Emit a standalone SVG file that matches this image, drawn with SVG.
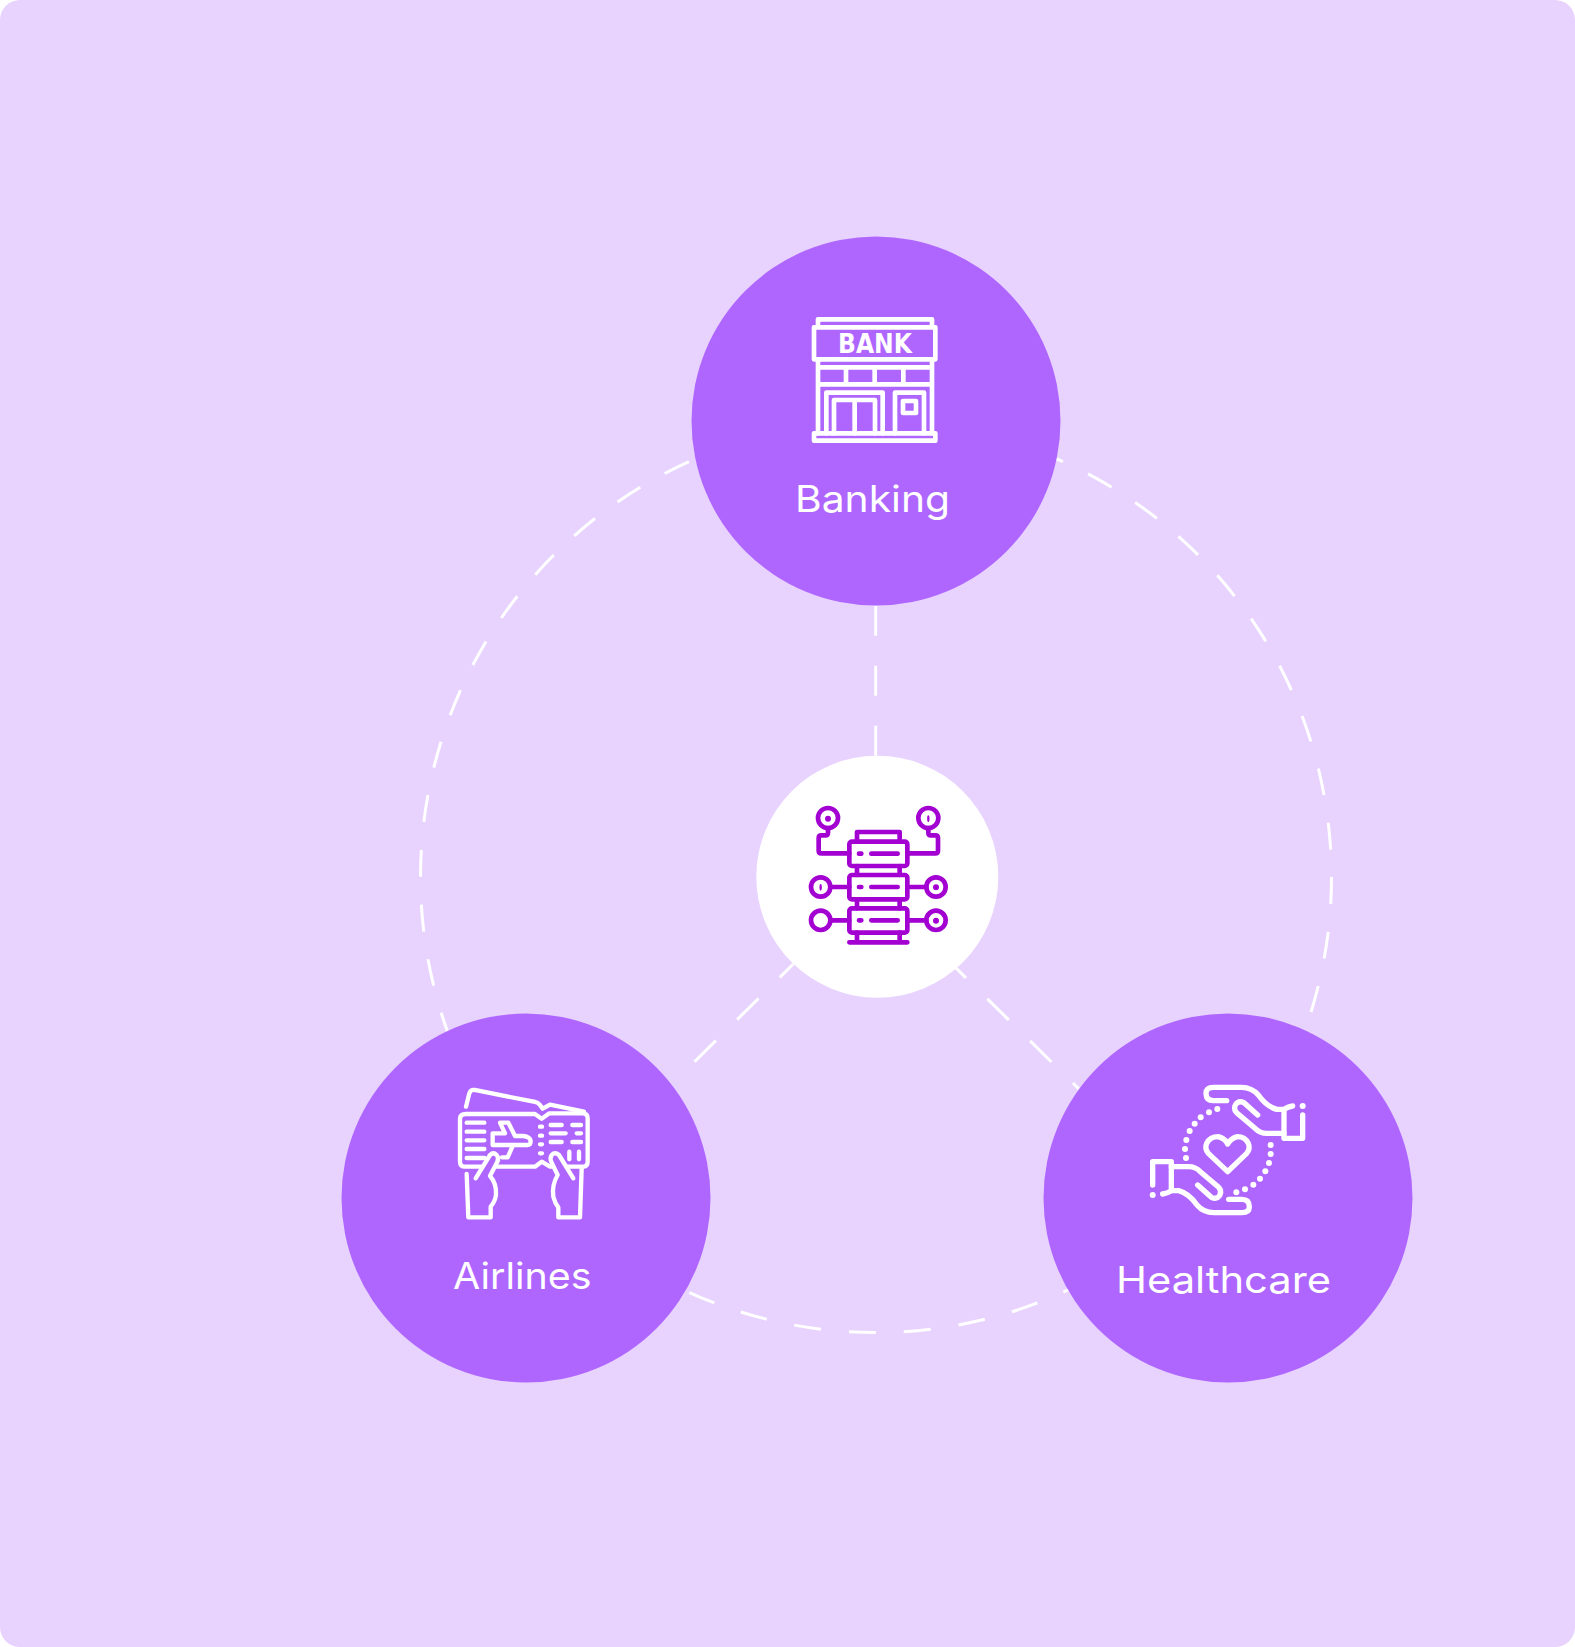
<svg xmlns="http://www.w3.org/2000/svg" width="1575" height="1647" viewBox="0 0 1575 1647">
<style>
.bg{fill:#E8D3FF}
.hub{fill:#AF66FF}
.dash{fill:none;stroke:#fff;stroke-width:3}
.ic{fill:none;stroke:#fff;stroke-linecap:round;stroke-linejoin:round}
.sv{fill:none;stroke:#A300D2;stroke-width:14;stroke-linecap:round;stroke-linejoin:round}
.d{fill:#A300D2}
.lbl{font-family:"Inter","Open Sans","Liberation Sans",sans-serif;font-size:37px;fill:#fff;font-weight:400}
</style>
<rect width="1575" height="1647" fill="#fff"/>
<rect class="bg" width="1575" height="1647" rx="20"/>
<g id="connectors">
<circle class="dash" cx="876" cy="877" r="455.5" stroke-dasharray="27 28.04"/>
<path class="dash" d="M875.7 605.7V755.7" stroke-dasharray="30 30"/>
<path class="dash" d="M793.3 964L694.3 1062" stroke-dasharray="19 30 30 30 30"/>
<path class="dash" d="M956 968L1079 1089" stroke-dasharray="14 30 30 30 30 30 9"/>
</g>
<g id="banking">
<circle class="hub" cx="876" cy="421" r="184.5"/>
<g transform="translate(780 290) scale(.33333)">
<g class="ic" stroke-width="14">
<path d="M114 110V88H456V110"/>
<rect x="102" y="112" width="364" height="96"/>
<path d="M114 208V430M456 208V430M114 232H456M114 283H456M198 232V283M284 232V283M370 232V283"/>
<path d="M139 430V308H308V430M162 430V330H285V430M224 330V430M345 430V308H432V430"/>
<rect x="369" y="333" width="39" height="36"/>
<rect x="102" y="430" width="364" height="22"/>
</g>
<text x="285" y="190" text-anchor="middle" font-family="'DejaVu Sans','Liberation Sans',sans-serif" font-weight="700" font-size="78" fill="#fff" textLength="222" lengthAdjust="spacingAndGlyphs">BANK</text>
</g>
<text class="lbl" x="795" y="512" textLength="155" lengthAdjust="spacingAndGlyphs">Banking</text>
</g>
<g id="core">
<circle cx="877.3" cy="876.7" r="121" fill="#fff"/>
<g transform="translate(790 790) scale(.33333)">
<g class="sv">
<circle cx="114" cy="84" r="30"/><circle cx="415" cy="84" r="30"/>
<circle cx="92" cy="291" r="29"/><circle cx="92" cy="391" r="29"/>
<circle cx="438" cy="291" r="29"/><circle cx="438" cy="391" r="29"/>
<path d="M114 114V128Q114 136 106 136H94Q86 136 86 144V182Q86 190 94 190H178M415 114V128Q415 136 423 136H436Q444 136 444 144V182Q444 190 436 190H352"/>
<path d="M121 291H178M121 391H178M352 291H409M352 391H409"/>
<rect x="178" y="155" width="174" height="73" rx="8"/>
<rect x="178" y="255" width="174" height="73" rx="8"/>
<rect x="178" y="355" width="174" height="73" rx="8"/>
<path d="M201 155V126H329V155M201 228V255M329 228V255M201 328V355M329 328V355M201 428V456M329 428V456M178 457H352"/>
<path d="M207 191H214M244 191H323M207 291H214M244 291H323M207 391H214M244 391H323"/>
</g>
<circle class="d" cx="114" cy="86" r="9"/><ellipse class="d" cx="415" cy="86" rx="3.5" ry="10"/>
<ellipse class="d" cx="92" cy="292" rx="3.5" ry="10"/>
<circle class="d" cx="438" cy="292" r="9"/><circle class="d" cx="438" cy="392" r="9"/>
</g>
</g>
<g id="airlines">
<circle class="hub" cx="526" cy="1198" r="184.5"/>
<g transform="translate(440 1070) scale(.33333)">
<g class="ic" stroke-width="13">
<path d="M78 110L88 70Q92 58 104 60L285 96Q295 98 300 105L308 116L330 104L432 125"/>
<path d="M78 132H285L305 146L328 130H428Q443 130 443 145V275Q443 290 428 290H330L305 275L285 290H75Q60 290 60 275V147Q60 132 78 132Z"/>
<path d="M158 190V225H262Q272 225 272 213Q270 200 250 198H225L205 158H180L195 190ZM218 228L203 262H186"/>
<path d="M80 158H133M80 185H133M80 211H133M80 237H133M80 264H133"/>
<path d="M300 170H306M300 197H306M300 223H306M300 250H306"/>
<path d="M332 165H365M397 165H423M332 190H377M410 190H423M332 216H365M397 216H423M388 245V268M417 245V268"/>
<path fill="#AF66FF" d="M107 325L150 255Q160 245 170 255Q178 265 172 275L150 318Q170 340 168 375Q165 395 152 410V442H85L80 312"/>
<path fill="#AF66FF" d="M400 325L357 255Q345 245 335 255Q328 265 335 278L353 315Q335 345 340 380Q345 400 355 412V442H420L425 295"/>
</g>
</g>
<text class="lbl" x="453" y="1289" textLength="138.5" lengthAdjust="spacingAndGlyphs">Airlines</text>
</g>
<g id="healthcare">
<circle class="hub" cx="1228" cy="1198" r="184.5"/>
<g transform="translate(1110 1070) scale(.33333)">
<g class="ic" stroke-width="16">
<path d="M350 92H310Q288 92 288 70Q288 52 310 52H395Q425 52 445 75Q470 110 500 118H522Q535 110 548 108M522 118V205H578V135"/>
<path d="M443 135L402 98Q385 90 376 105Q370 118 380 128L435 175Q450 190 470 190H522"/>
<g transform="matrix(-1 0 0 -1 706 480)">
<path d="M350 92H310Q288 92 288 70Q288 52 310 52H395Q425 52 445 75Q470 110 500 118H522Q535 110 548 108M522 118V205H578V135"/>
<path d="M443 135L402 98Q385 90 376 105Q370 118 380 128L435 175Q450 190 470 190H522"/>
</g>
<path d="M353 305L295 250Q283 235 290 220Q300 200 325 200Q345 205 353 222Q362 205 382 200Q405 200 415 220Q422 235 410 250Z"/>
</g>
<g fill="#fff">
<circle cx="578" cy="108" r="9"/><circle cx="128" cy="375" r="9"/>
<circle cx="322" cy="117" r="9"/><circle cx="297" cy="127" r="9"/><circle cx="272" cy="142" r="9"/><circle cx="254" cy="161" r="9"/><circle cx="239" cy="183" r="9"/><circle cx="229" cy="210" r="9"/><circle cx="225" cy="237" r="9"/><circle cx="228" cy="264" r="9"/>
<circle cx="379" cy="367" r="9"/><circle cx="405" cy="358" r="9"/><circle cx="430" cy="344" r="9"/><circle cx="450" cy="326" r="9"/><circle cx="466" cy="304" r="9"/><circle cx="477" cy="279" r="9"/><circle cx="482" cy="252" r="9"/><circle cx="482" cy="225" r="9"/>
</g>
</g>
<text class="lbl" x="1116" y="1293" textLength="215" lengthAdjust="spacingAndGlyphs">Healthcare</text>
</g>
</svg>
